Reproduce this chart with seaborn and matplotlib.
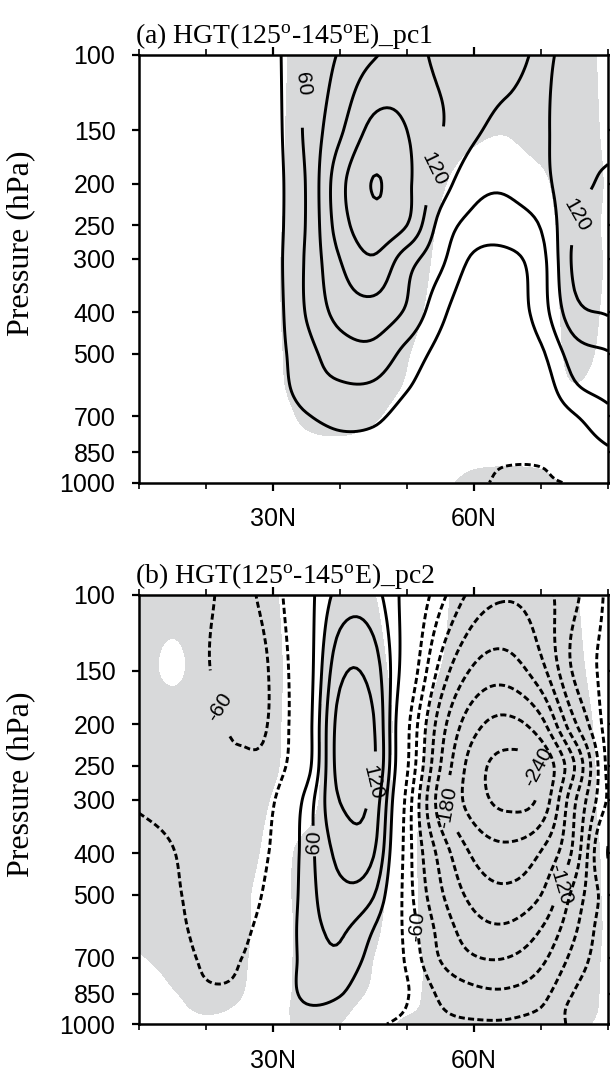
import numpy as np
import matplotlib
matplotlib.use("Agg")
import matplotlib.pyplot as plt
from matplotlib.ticker import NullLocator
import seaborn as sns

# ---------------- data ----------------
lats = [10, 15, 20, 25, 30, 35, 40, 45, 50, 55, 60, 65, 70, 75, 80]
pressure = [1000, 925, 850, 700, 600, 500, 400, 300, 250, 200, 150, 100]

# (a) regressed HGT onto pc1, rows follow `pressure`, columns follow `lats`
hgt_pc1 = [
    [0, 0, 0, 0, 1, 3, 4, 2, -3, -12, -22, -38, -36, -25, -5],
    [1, 1, 1, 1, 2, 6, 8, 6, 0, -8, -18, -32, -31, -5, 12],
    [1, 1, 1, 2, 4, 12, 18, 16, 8, 0, -10, -15, -8, 10, 25],
    [2, 2, 2, 3, 8, 28, 38, 36, 18, 5, -5, -8, 5, 28, 50],
    [2, 2, 3, 5, 14, 45, 56, 55, 32, 10, 0, -2, 12, 55, 72],
    [2, 2, 3, 6, 18, 50, 75, 80, 50, 20, 5, 5, 25, 75, 88],
    [2, 2, 3, 6, 18, 62, 100, 108, 85, 38, 5, 10, 45, 110, 122],
    [3, 3, 4, 7, 20, 64, 120, 147, 104, 67, 25, 22, 50, 125, 130],
    [4, 4, 5, 8, 20, 62, 135, 170, 150, 80, 50, 48, 62, 120, 128],
    [5, 5, 6, 10, 20, 62, 140, 181, 156, 105, 70, 64, 80, 112, 124],
    [5, 5, 6, 10, 20, 66, 115, 158, 150, 122, 95, 80, 82, 118, 112],
    [5, 5, 6, 10, 22, 62, 93, 117, 132, 112, 105, 102, 86, 100, 104],
]
# significance (t value) for panel (a); shaded where above threshold
sig_pc1 = [
    [0.5, 0.5, 0.5, 0.5, 0.5, 0.8, 1.0, 0.8, 0.8, 1.5, 2.6, 3.0, 2.6, 1.4, 0.8],
    [0.5, 0.5, 0.5, 0.5, 0.6, 1.0, 1.2, 1.0, 0.8, 1.2, 1.9, 2.1, 1.9, 1.0, 0.8],
    [0.5, 0.5, 0.5, 0.5, 0.8, 1.3, 1.4, 1.2, 0.9, 0.6, 0.8, 0.8, 0.8, 0.8, 0.7],
    [0.5, 0.5, 0.5, 0.6, 1.0, 2.4, 2.8, 2.2, 1.2, 0.5, 0.3, 0.3, 0.6, 1.2, 1.0],
    [0.5, 0.5, 0.5, 0.6, 1.4, 3.0, 3.4, 2.8, 1.8, 0.8, 0.2, 0.3, 1.0, 1.9, 1.2],
    [0.5, 0.5, 0.5, 0.6, 1.5, 3.2, 3.6, 3.2, 2.1, 1.0, 0.2, 0.2, 0.8, 2.4, 1.5],
    [0.5, 0.5, 0.5, 0.6, 1.6, 3.3, 3.8, 3.5, 2.6, 1.3, 0.3, 0.3, 0.9, 2.6, 1.7],
    [0.5, 0.5, 0.5, 0.6, 1.6, 3.4, 4.0, 3.8, 3.0, 1.6, 0.5, 0.4, 1.0, 2.8, 1.8],
    [0.5, 0.5, 0.5, 0.6, 1.5, 3.4, 4.0, 4.0, 3.2, 1.8, 0.8, 0.6, 1.2, 2.8, 1.7],
    [0.5, 0.5, 0.5, 0.6, 1.3, 3.3, 4.0, 4.2, 3.6, 2.2, 1.2, 1.0, 1.6, 3.0, 1.8],
    [0.5, 0.5, 0.5, 0.5, 1.3, 3.2, 3.8, 4.0, 3.8, 3.0, 2.3, 2.1, 2.8, 3.0, 1.6],
    [0.5, 0.5, 0.5, 0.5, 1.2, 3.0, 3.5, 3.5, 3.5, 3.2, 2.8, 2.7, 3.0, 2.8, 1.5],
]

# (b) regressed HGT onto pc2
hgt_pc2 = [
    [3, 0, -6, -5, 2, 12, 10, -20, -42, -52, -55, -54, -40, -25, 5],
    [2, -2, -12, -10, 0, 25, 20, 2, -32, -58, -70, -72, -58, -20, 5],
    [0, -8, -24, -22, -4, 38, 32, 0, -28, -65, -82, -85, -70, -28, 0],
    [-5, -16, -34, -31, -8, 42, 55, 15, -35, -92, -118, -120, -98, -50, -5],
    [-10, -22, -38, -36, -12, 45, 64, 30, -40, -100, -138, -145, -120, -65, -5],
    [-15, -26, -40, -42, -18, 45, 82, 62, -45, -115, -160, -172, -150, -80, -10],
    [-20, -29, -42, -45, -25, 45, 98, 92, -45, -130, -185, -200, -178, -110, 32],
    [-33, -38, -46, -50, -33, 40, 121, 110, -40, -165, -225, -247, -232, -125, -25],
    [-38, -42, -50, -56, -48, 15, 133, 124, -25, -150, -225, -249, -236, -150, -20],
    [-40, -44, -52, -64, -55, 12, 132, 122, -20, -135, -200, -218, -190, -95, -15],
    [-42, -45, -58, -72, -55, 10, 112, 105, 5, -100, -155, -165, -130, -55, -20],
    [-45, -50, -57, -66, -45, 15, 70, 70, 15, -50, -100, -116, -102, -66, -24],
]
sig_pc2 = [
    [1.0, 1.2, 1.5, 1.3, 1.2, 2.6, 2.0, 1.2, 2.4, 3.0, 3.2, 3.2, 3.0, 2.5, 1.4],
    [1.2, 1.6, 2.2, 1.8, 1.2, 2.8, 2.3, 1.5, 1.7, 2.8, 3.4, 3.5, 3.3, 3.0, 1.5],
    [1.2, 1.9, 2.4, 2.1, 1.0, 2.8, 2.6, 1.8, 1.5, 2.8, 3.5, 3.6, 3.5, 3.0, 1.6],
    [1.9, 2.4, 2.8, 2.3, 1.2, 2.6, 2.8, 2.0, 1.3, 3.0, 3.6, 3.8, 3.6, 3.2, 1.6],
    [2.4, 2.8, 3.0, 2.4, 1.3, 2.5, 3.0, 2.2, 1.5, 3.2, 3.8, 4.0, 3.8, 3.3, 1.7],
    [2.6, 3.0, 3.2, 2.4, 1.4, 2.6, 3.2, 2.4, 1.5, 3.4, 4.0, 4.2, 4.0, 3.4, 1.6],
    [2.8, 3.0, 3.2, 2.8, 1.6, 2.4, 3.2, 2.6, 1.6, 3.4, 4.0, 4.2, 4.0, 3.4, 1.5],
    [2.8, 3.0, 3.2, 3.0, 1.9, 1.4, 3.2, 2.9, 1.5, 3.2, 3.8, 4.0, 3.8, 3.2, 1.2],
    [2.8, 3.0, 3.2, 3.0, 2.2, 1.3, 3.2, 3.0, 1.3, 3.0, 3.8, 4.0, 3.8, 3.0, 1.3],
    [3.0, 3.0, 3.0, 3.0, 2.3, 1.2, 3.2, 3.0, 1.4, 2.6, 3.5, 3.8, 3.5, 2.8, 1.2],
    [2.8, 1.7, 2.8, 3.0, 2.4, 1.1, 3.0, 2.6, 1.2, 2.0, 3.2, 3.5, 3.2, 2.4, 1.0],
    [3.0, 3.0, 3.0, 3.0, 2.2, 1.0, 2.4, 2.05, 0.8, 1.6, 3.0, 3.2, 3.0, 2.1, 1.0],
]

contour_levels = [-270, -240, -210, -180, -150, -120, -90, -60, -30,
                  30, 60, 90, 120, 150, 180, 210]
label_levels = [-240, -180, -120, -60, 60, 120, 180]
sig_threshold = 2.0

ytick_values = [100, 150, 200, 250, 300, 400, 500, 700, 850, 1000]
ytick_labels = ["100", "150", "200", "250", "300", "400", "500", "700", "850", "1000"]
xtick_major = [30, 60]
xtick_labels = ["30N", "60N"]
xtick_minor = [10, 20, 40, 50, 70, 80]

titles = [r"(a) HGT(125$^{\rm o}$-145$^{\rm o}$E)_pc1",
          r"(b) HGT(125$^{\rm o}$-145$^{\rm o}$E)_pc2"]


# ---------------- smooth (cubic Hermite) resampling of the grid ----------------
def _hermite_1d(x, y, xn):
    """Cubic Hermite interpolation along axis 0 of y (passes through the nodes)."""
    x = np.asarray(x, float)
    y = np.asarray(y, float)
    n = len(x)
    d = np.diff(y, axis=0) / np.diff(x)[:, None]
    m = np.empty_like(y)
    m[0] = d[0]
    m[-1] = d[-1]
    for i in range(1, n - 1):
        h0 = x[i] - x[i - 1]
        h1 = x[i + 1] - x[i]
        m[i] = (d[i] * h0 + d[i - 1] * h1) / (h0 + h1)
    k = np.clip(np.searchsorted(x, xn) - 1, 0, n - 2)
    h = x[k + 1] - x[k]
    t = ((xn - x[k]) / h)[:, None]
    hh = h[:, None]
    h00 = 2 * t**3 - 3 * t**2 + 1
    h10 = t**3 - 2 * t**2 + t
    h01 = -2 * t**3 + 3 * t**2
    h11 = t**3 - t**2
    return h00 * y[k] + h10 * hh * m[k] + h01 * y[k + 1] + h11 * hh * m[k + 1]


def resample(field):
    lat_a = np.array(lats, float)
    lp = np.log10(np.array(pressure, float))[::-1]
    F = np.array(field, float)[::-1]           # rows now ascending in log p
    lat_f = np.linspace(lat_a[0], lat_a[-1], 141)
    lp_f = np.linspace(lp[0], lp[-1], 161)
    G = _hermite_1d(lat_a, F.T, lat_f).T       # along latitude
    G = _hermite_1d(lp, G, lp_f)               # along log pressure
    XF, YF = np.meshgrid(lat_f, 10 ** lp_f)
    return XF, YF, G


# ---------------- style ----------------
sns.set_theme(style="ticks")
plt.rcParams["font.family"] = ["Liberation Sans", "DejaVu Sans"]
plt.rcParams["mathtext.fontset"] = "custom"
plt.rcParams["mathtext.rm"] = "Liberation Serif"
plt.rcParams["mathtext.it"] = "Liberation Serif:italic"
plt.rcParams["axes.linewidth"] = 1.8
plt.rcParams["lines.scale_dashes"] = True

shade_color = "#d8d9da"

fig = plt.figure(figsize=(6.10, 10.71), dpi=100)
ax_a = fig.add_axes([139 / 610, 1 - 482.5 / 1071, 469 / 610, 427.5 / 1071])
ax_b = fig.add_axes([139 / 610, 1 - 1024 / 1071, 469 / 610, 429 / 1071])


def draw_panel(ax, hgt, sig, title):
    XS, PS, S = resample(sig)
    X, P, H = resample(hgt)
    ax.contourf(XS, PS, S, levels=[sig_threshold, 1e3], colors=[shade_color])
    pos = [v for v in contour_levels if v > 0]
    neg = [v for v in contour_levels if v < 0]
    cs_p = ax.contour(X, P, H, levels=pos, colors="black", linewidths=2.1,
                      linestyles="solid")
    cs_n = ax.contour(X, P, H, levels=neg, colors="black", linewidths=2.1,
                      linestyles=[(0, (2.1, 1.1))])
    for cs in (cs_p, cs_n):
        lv = [v for v in label_levels if v in list(cs.levels)]
        if lv:
            ax.clabel(cs, levels=lv, fmt="%d", fontsize=15, inline=True,
                      inline_spacing=3)
    ax.set_yscale("log")
    ax.set_ylim(1000, 100)
    ax.set_xlim(10, 80)
    ax.set_yticks(ytick_values)
    ax.set_yticklabels(ytick_labels)
    ax.yaxis.set_minor_locator(NullLocator())
    ax.set_xticks(xtick_major)
    ax.set_xticklabels(xtick_labels)
    ax.set_xticks(xtick_minor, minor=True)
    ax.tick_params(axis="both", which="major", direction="out", length=5,
                   width=1.6, labelsize=18, color="black", labelcolor="black")
    ax.tick_params(axis="y", which="major", pad=12, left=True, right=True)
    ax.tick_params(axis="x", which="major", pad=12, top=True, bottom=True, length=6)
    ax.tick_params(axis="x", which="minor", direction="out", length=4,
                   width=1.4, top=True, bottom=True)
    for s in ax.spines.values():
        s.set_color("black")
        s.set_linewidth(1.8)
    ax.set_ylabel("Pressure (hPa)", fontfamily="Liberation Serif", fontsize=23,
                  color="black")
    ax.yaxis.set_label_coords(-0.222, 0.56)
    ax.text(-0.009, 1.028, title, transform=ax.transAxes, ha="left",
            va="baseline", fontsize=20, fontfamily="Liberation Serif",
            color="black")


draw_panel(ax_a, hgt_pc1, sig_pc1, titles[0])
draw_panel(ax_b, hgt_pc2, sig_pc2, titles[1])

fig.savefig("out.png", dpi=100, facecolor="white")
